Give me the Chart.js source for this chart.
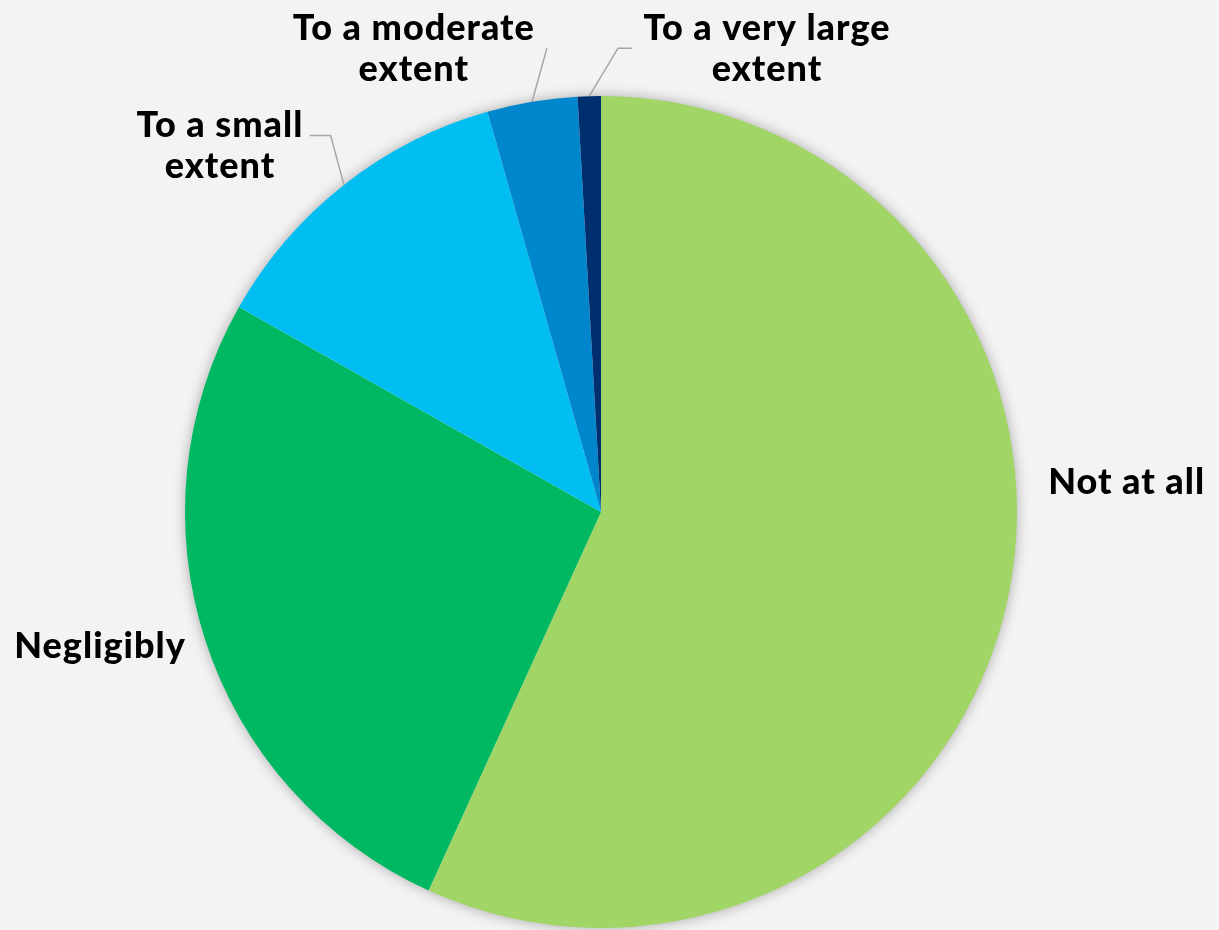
<!DOCTYPE html>
<html>
<head>
<meta charset="utf-8">
<script src="https://cdn.jsdelivr.net/npm/chart.js@4"></script>
<style>
  html, body { margin: 0; padding: 0; background: #f3f3f3; }
  #wrap { width: 1219px; height: 930px; position: relative; }
</style>
</head>
<body>
<div id="wrap"><canvas id="chart"></canvas></div>
<script>
// slice data, clockwise from 12 o'clock
const categories = ["Not at all", "Negligibly", "To a small extent", "To a moderate extent", "To a very large extent"];
const values = [56.8, 26.4, 12.4, 3.5, 0.9];
const labelLines = [["Not at all"], ["Negligibly"], ["To a small", "extent"], ["To a moderate", "extent"], ["To a very large", "extent"]];
const colors = ["#a1d566", "#00b862", "#00bef2", "#0086cc", "#002f6f"];

// label placement, in units of the pie radius from its centre
const labelPlace = [
  { dx: 1.075, dy: -0.072, align: "left" },
  { dx: -0.998, dy: 0.322, align: "right" },
  { dx: -0.916, dy: -0.88, align: "center", leader: { ex: -0.65, ey: -0.905, tx: -0.700 } },
  { dx: -0.45, dy: -1.113, align: "center", leader: { ex: -0.13, ey: -1.115, tx: -0.13 } },
  { dx: 0.399, dy: -1.113, align: "center", leader: { ex: 0.041, ey: -1.115, tx: 0.075 } }
];

const FONT = "900 36px Lato, 'DejaVu Sans', sans-serif";
const LINE_H = 41;

const shadowPlugin = {
  id: "shadow",
  beforeDatasetsDraw(chart) {
    const arc = chart.getDatasetMeta(0).data[0];
    if (!arc) return;
    const ctx = chart.ctx;
    ctx.save();
    ctx.shadowColor = "rgba(0,0,0,0.35)";
    ctx.shadowBlur = 14;
    ctx.fillStyle = "#f3f3f3";
    ctx.beginPath();
    ctx.arc(arc.x, arc.y, arc.outerRadius - 1, 0, Math.PI * 2);
    ctx.fill();
    ctx.restore();
  }
};

const labelPlugin = {
  id: "sliceLabels",
  afterDatasetsDraw(chart) {
    const ctx = chart.ctx;
    const arcs = chart.getDatasetMeta(0).data;
    ctx.save();
    ctx.font = FONT;
    ctx.letterSpacing = "1px";
    ctx.fillStyle = "#000";
    ctx.textBaseline = "middle";
    arcs.forEach((arc, i) => {
      const r = arc.outerRadius;
      const p = labelPlace[i];
      const cx = arc.x + p.dx * r;
      const cy = arc.y + p.dy * r;
      const lines = labelLines[i];
      ctx.textAlign = p.align;
      lines.forEach((t, k) => {
        ctx.fillText(t, cx, cy + (k - (lines.length - 1) / 2) * LINE_H);
      });
      if (p.leader) {
        const mid = (arc.startAngle + arc.endAngle) / 2;
        const ax = arc.x + Math.cos(mid) * r;
        const ay = arc.y + Math.sin(mid) * r;
        ctx.strokeStyle = "#a6a6a6";
        ctx.lineWidth = 1.5;
        ctx.beginPath();
        ctx.moveTo(ax, ay);
        ctx.lineTo(arc.x + p.leader.ex * r, arc.y + p.leader.ey * r);
        ctx.lineTo(arc.x + p.leader.tx * r, arc.y + p.leader.ey * r);
        ctx.stroke();
      }
    });
    ctx.restore();
  }
};

new Chart(document.getElementById("chart"), {
  type: "pie",
  data: {
    labels: categories,
    datasets: [{
      data: values,
      backgroundColor: colors,
      borderWidth: 0
    }]
  },
  options: {
    responsive: true,
    maintainAspectRatio: false,
    animation: false,
    layout: { padding: { top: 96, bottom: 2, left: 185, right: 202 } },
    plugins: {
      legend: { display: false },
      tooltip: { enabled: false }
    }
  },
  plugins: [shadowPlugin, labelPlugin]
});
</script>
</body>
</html>
